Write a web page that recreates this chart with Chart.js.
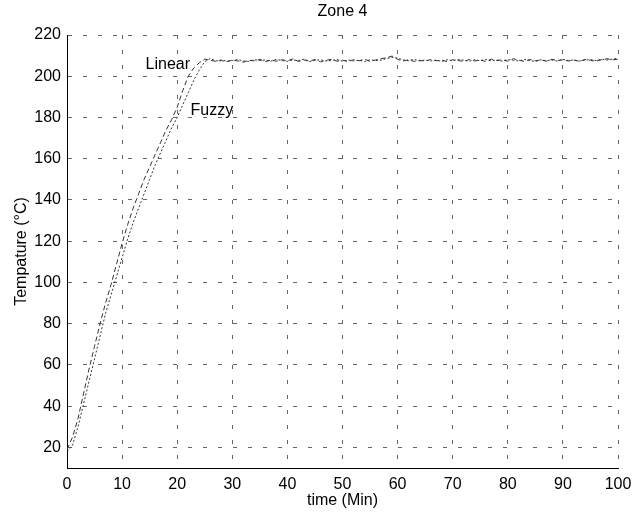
<!DOCTYPE html>
<html>
<head>
<meta charset="utf-8">
<title>Zone 4</title>
<script src="https://cdn.jsdelivr.net/npm/chart.js@4/dist/chart.umd.min.js"></script>
<style>
  html, body { margin: 0; padding: 0; background: #fff; }
  #wrap { width: 640px; height: 513px; }
</style>
</head>
<body>
<div id="wrap"><canvas id="zoneChart" width="640" height="513"></canvas></div>
<script>
// time axis, one sample per minute
const timeMin = [
  0, 1, 2, 3, 4, 5, 6, 7, 8, 9, 10, 11, 12, 13, 14, 15, 16, 17, 18, 19,
  20, 21, 22, 23, 24, 25, 26, 27, 28, 29, 30, 31, 32, 33, 34, 35, 36, 37, 38, 39,
  40, 41, 42, 43, 44, 45, 46, 47, 48, 49, 50, 51, 52, 53, 54, 55, 56, 57, 58, 59,
  60, 61, 62, 63, 64, 65, 66, 67, 68, 69, 70, 71, 72, 73, 74, 75, 76, 77, 78, 79,
  80, 81, 82, 83, 84, 85, 86, 87, 88, 89, 90, 91, 92, 93, 94, 95, 96, 97, 98, 99, 100
];

// zone temperature (°C), linear controller
const linearTemp = [
  19, 25, 34, 46, 58, 69, 80, 90, 99, 109, 119, 128, 136, 143, 150, 156, 162, 168, 174, 179,
  185, 193, 200, 204, 206.5, 208.3, 207.8, 207.2, 207.6, 207.0, 207.9, 207.4, 206.8, 207.7, 207.5, 208.2, 207.1, 207.8, 207.3, 208.0,
  207.5, 208.4, 207.2, 207.9, 207.4, 208.1, 207.0, 207.7, 208.2, 207.3, 207.8, 207.1, 208.0, 207.5, 208.3, 207.2, 207.9, 208.5, 209.0, 209.8,
  208.2, 207.4, 208.0, 207.2, 207.7, 207.3, 208.1, 207.5, 207.8, 207.1, 208.0, 207.6, 207.2, 208.1, 207.4, 207.9, 207.2, 208.3, 207.6, 208.0,
  207.3, 208.5, 207.8, 207.2, 208.1, 207.5, 207.9, 207.3, 208.2, 207.6, 208.0, 207.4, 207.8, 207.2, 208.1, 207.7, 207.3, 208.0, 208.5, 207.9, 208.3
];

// zone temperature (°C), fuzzy controller
const fuzzyTemp = [
  18, 21, 30, 41, 52, 63, 74, 85, 94, 103, 112, 121, 129, 136, 143, 150, 157, 163, 169, 175,
  180, 186, 192, 198, 203, 207, 208.6, 207.4, 207.9, 207.3, 207.6, 208.1, 207.4, 207.2, 208.0, 207.6, 207.9, 207.3, 208.2, 207.6,
  207.2, 207.9, 207.6, 208.3, 207.1, 207.7, 208.0, 207.4, 207.6, 208.1, 207.3, 207.9, 207.4, 207.8, 207.1, 208.0, 207.6, 207.8, 208.6, 209.2,
  208.8, 207.9, 207.5, 208.2, 207.4, 207.9, 207.4, 207.8, 207.2, 208.0, 207.5, 208.2, 207.8, 207.3, 208.0, 207.5, 208.1, 207.4, 207.9, 207.3,
  208.1, 207.7, 207.4, 208.2, 207.6, 207.2, 208.0, 207.5, 207.9, 207.3, 208.2, 207.6, 207.9, 207.4, 207.8, 208.1, 207.6, 208.3, 207.8, 208.4, 208.6
];

const xTicks = [0, 10, 20, 30, 40, 50, 60, 70, 80, 90, 100];
const yTicks = [20, 40, 60, 80, 100, 120, 140, 160, 180, 200, 220];

const FONT = { family: "'Liberation Sans', Arial, Helvetica, sans-serif", size: 16 };

// text placed next to each curve, in data coordinates
const curveNotes = [
  { text: "Linear", t: 18.3, v: 205.6 },
  { text: "Fuzzy", t: 26.3, v: 183.3 }
];

const toPoints = (ys) => timeMin.map((t, i) => ({ x: t, y: ys[i] }));

const notesPlugin = {
  id: "notes",
  afterDraw(chart) {
    const { ctx, chartArea, scales } = chart;
    ctx.save();
    ctx.fillStyle = "#000";
    ctx.font = `${FONT.size}px ${FONT.family}`;
    ctx.textAlign = "center";
    ctx.textBaseline = "middle";
    ctx.fillText("Zone 4", (chartArea.left + chartArea.right) / 2, 12);
    curveNotes.forEach((n) => {
      ctx.fillText(n.text, scales.x.getPixelForValue(n.t), scales.y.getPixelForValue(n.v));
    });
    ctx.restore();
  }
};

const gridOpts = { color: "#666", lineWidth: 1, drawTicks: false, tickLength: 0 };
// in v4 border.dash styles the grid lines; the axis line itself stays solid
const borderOpts = { display: true, color: "#000", width: 1, dash: [4, 11] };

new Chart(document.getElementById("zoneChart"), {
  type: "line",
  data: {
    datasets: [
      {
        label: "Linear",
        data: toPoints(linearTemp),
        borderColor: "#333",
        borderWidth: 1,
        borderDash: [5, 3],
        pointRadius: 0,
        tension: 0,
        fill: false
      },
      {
        label: "Fuzzy",
        data: toPoints(fuzzyTemp),
        borderColor: "#333",
        borderWidth: 1,
        borderDash: [2, 2],
        pointRadius: 0,
        tension: 0,
        fill: false
      }
    ]
  },
  options: {
    responsive: false,
    animation: false,
    devicePixelRatio: 1,
    layout: { padding: { top: 35, right: 22, left: 0, bottom: 0 } },
    plugins: {
      legend: { display: false },
      title: { display: false },
      tooltip: { enabled: false }
    },
    scales: {
      x: {
        type: "linear",
        min: 0,
        max: 100,
        afterBuildTicks: (axis) => { axis.ticks = xTicks.map((v) => ({ value: v })); },
        afterFit: (axis) => { axis.height = 45; },
        grid: gridOpts,
        border: borderOpts,
        ticks: { color: "#000", font: FONT, padding: 7, maxRotation: 0 },
        title: { display: true, text: "time (Min)", color: "#000", font: FONT, padding: { top: 0, bottom: 3 } }
      },
      y: {
        type: "linear",
        min: 10,
        max: 220,
        afterBuildTicks: (axis) => { axis.ticks = yTicks.map((v) => ({ value: v })); },
        afterFit: (axis) => { axis.width = 67; },
        grid: gridOpts,
        border: borderOpts,
        ticks: { color: "#000", font: FONT, padding: 6 },
        title: { display: true, text: "Tempature (°C)", color: "#000", font: FONT, padding: { top: 12, bottom: 0 } }
      }
    }
  },
  plugins: [notesPlugin]
});
</script>
</body>
</html>
